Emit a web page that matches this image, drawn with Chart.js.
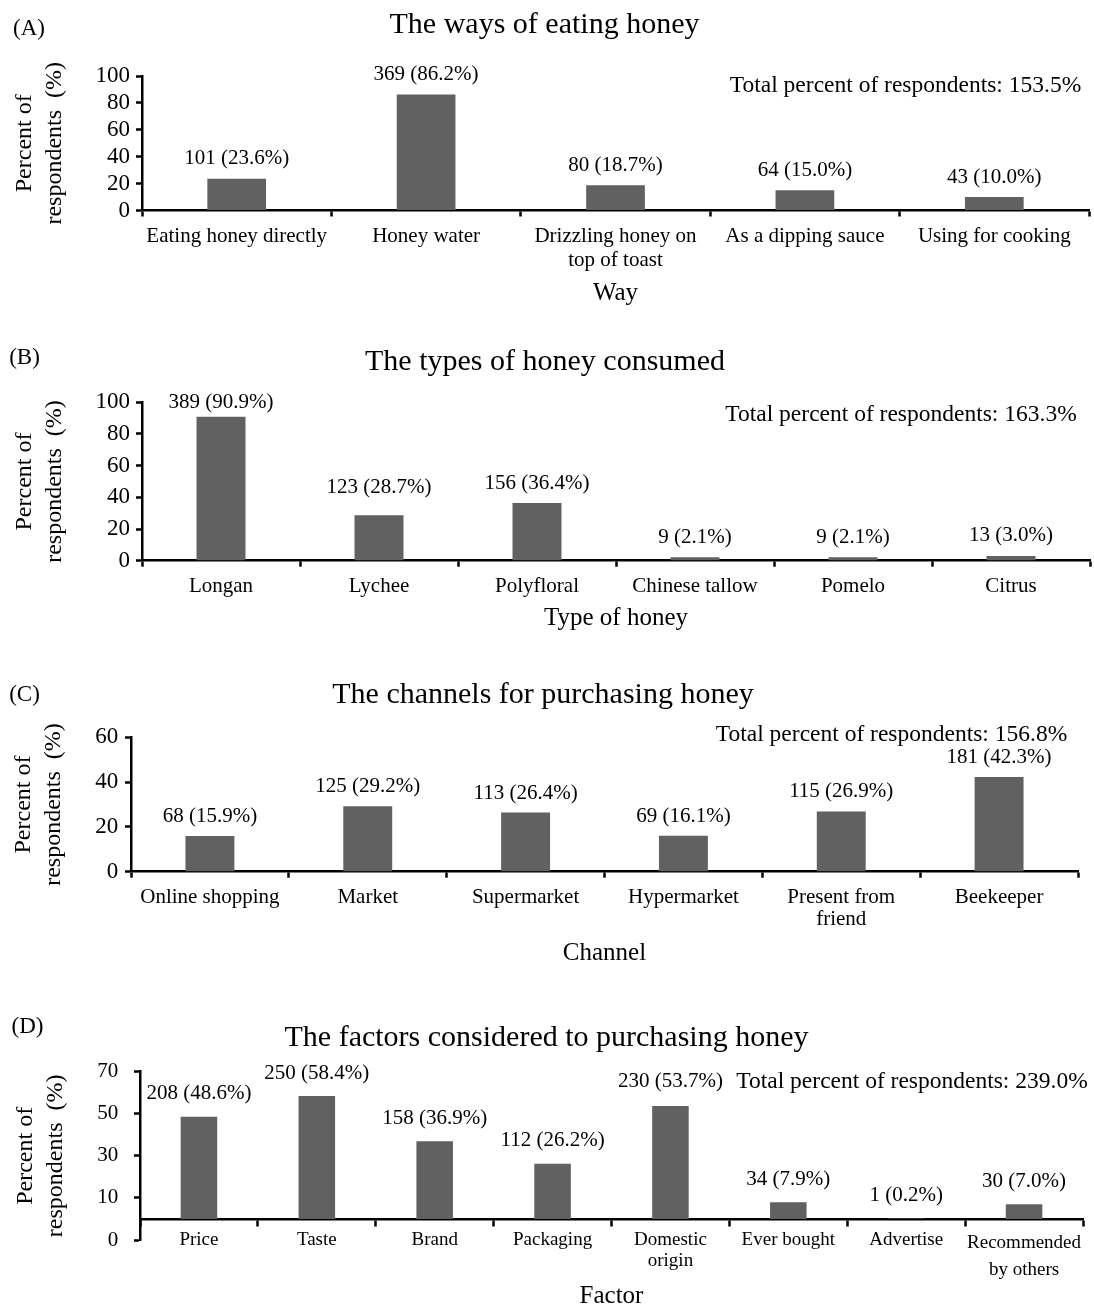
<!DOCTYPE html>
<html>
<head>
<meta charset="utf-8">
<title>Honey consumption survey</title>
<script src="https://cdn.jsdelivr.net/npm/chart.js@4.4.1/dist/chart.umd.min.js"></script>
<style>
  html, body { margin: 0; padding: 0; background: #fff; overflow: hidden; }
  body { width: 1094px; height: 1307px; position: relative; }
  canvas { position: absolute; left: 0; }
</style>
</head>
<body>
<canvas id="wayChart" width="1094" height="325" style="top:0px"></canvas>
<canvas id="typeChart" width="1094" height="330" style="top:325px"></canvas>
<canvas id="channelChart" width="1094" height="330" style="top:655px"></canvas>
<canvas id="factorChart" width="1094" height="322" style="top:985px"></canvas>
<script>
// (A) ways of eating honey
const wayLabels = ['Eating honey directly', 'Honey water', ['Drizzling honey on', 'top of toast'], 'As a dipping sauce', 'Using for cooking'];
const wayCounts = [101, 369, 80, 64, 43];
const wayPercent = [23.6, 86.2, 18.7, 15.0, 10.0];
const wayTotal = 153.5;
const wayTickLabels = ['0', '20', '40', '60', '80', '100'];

// (B) types of honey consumed
const typeLabels = ['Longan', 'Lychee', 'Polyfloral', 'Chinese tallow', 'Pomelo', 'Citrus'];
const typeCounts = [389, 123, 156, 9, 9, 13];
const typePercent = [90.9, 28.7, 36.4, 2.1, 2.1, 3.0];
const typeTotal = 163.3;
const typeTickLabels = ['0', '20', '40', '60', '80', '100'];

// (C) purchase channels
const channelLabels = ['Online shopping', 'Market', 'Supermarket', 'Hypermarket', ['Present from', 'friend'], 'Beekeeper'];
const channelCounts = [68, 125, 113, 69, 115, 181];
const channelPercent = [15.9, 29.2, 26.4, 16.1, 26.9, 42.3];
const channelTotal = 156.8;
const channelTickLabels = ['0', '20', '40', '60'];

// (D) purchase factors
const factorLabels = ['Price', 'Taste', 'Brand', 'Packaging', ['Domestic', 'origin'], 'Ever bought', 'Advertise', ['Recommended', 'by others']];
const factorCounts = [208, 250, 158, 112, 230, 34, 1, 30];
const factorPercent = [48.6, 58.4, 36.9, 26.2, 53.7, 7.9, 0.2, 7.0];
const factorTotal = 239.0;
const factorTickLabels = ['0', '10', '30', '50', '70'];

const SERIF = '"Liberation Serif", "Times New Roman", Times, serif';
Chart.defaults.font.family = SERIF;
Chart.defaults.color = '#000';

// Count/percent labels above bars, the panel letter and the total note
const panelText = {
  id: 'panelText',
  afterDatasetsDraw(chart, args, o) {
    const { ctx } = chart;
    const meta = chart.getDatasetMeta(0);
    ctx.save();
    ctx.fillStyle = '#000';
    ctx.textAlign = 'center';
    ctx.textBaseline = 'middle';
    ctx.font = `21px ${SERIF}`;
    meta.data.forEach((bar, i) => {
      const lift = (o.liftAt && o.liftAt[i] != null) ? o.liftAt[i] : o.lift;
      ctx.fillText(`${o.counts[i]} (${o.pct[i].toFixed(1)}%)`, bar.x, bar.y - lift);
    });
    ctx.font = `23px ${SERIF}`;
    ctx.fillText(o.letter, o.letterX, o.letterY);
    ctx.font = `23.5px ${SERIF}`;
    ctx.fillText(`Total percent of respondents: ${o.total.toFixed(1)}%`, o.noteX, o.noteY);
    ctx.restore();
  }
};

function makePanel(p) {
  const axisColor = '#000';
  return new Chart(document.getElementById(p.id), {
    type: 'bar',
    data: {
      labels: p.labels,
      datasets: [{
        data: p.pct,
        backgroundColor: '#616161',
        borderWidth: 0,
        barPercentage: 0.31,
        categoryPercentage: 1.0
      }]
    },
    options: {
      responsive: false,
      animation: false,
      events: [],
      layout: { padding: { left: p.padLeft, right: p.padRight, top: 0, bottom: p.padBottom || 0 } },
      plugins: {
        legend: { display: false },
        tooltip: { enabled: false },
        title: {
          display: true,
          text: p.title,
          color: '#000',
          font: { size: 30, weight: 'normal', lineHeight: 1.2 },
          padding: { top: p.titleTop, bottom: p.titleBottom }
        },
        panelText: {
          counts: p.counts, pct: p.pct, total: p.total,
          lift: p.lift, liftAt: p.liftAt || null,
          letter: p.letter, letterX: p.letterX, letterY: p.letterY,
          noteX: p.noteX, noteY: p.noteY
        }
      },
      scales: {
        x: {
          position: p.xPosition || 'bottom',
          afterFit: s => { s.height = p.xHeight; },
          grid: {
            offset: true, drawOnChartArea: false, drawTicks: true,
            tickLength: 6, tickColor: axisColor, tickWidth: 2.5
          },
          border: { display: true, color: axisColor, width: 2.5 },
          ticks: {
            autoSkip: false, maxRotation: 0, minRotation: 0,
            padding: p.xTickPad, color: '#000',
            font: ctx => (p.xTickFont(ctx.index))
          },
          title: {
            display: true, text: p.xTitle, color: '#000',
            font: { size: 25, lineHeight: 1.2 },
            padding: { top: 0, bottom: p.xTitleBottom }
          }
        },
        y: {
          min: p.yMin, max: p.yMax,
          afterFit: s => { s.width = p.yWidth; },
          grid: {
            drawOnChartArea: false, drawTicks: true,
            tickLength: 6, tickColor: axisColor, tickWidth: 2.5
          },
          border: { display: true, color: axisColor, width: 2.5 },
          ticks: {
            stepSize: p.yStep, autoSkip: false, padding: p.yTickPad, color: '#000',
            font: { size: p.yTickSize, lineHeight: 1.0 },
            callback: (v, i) => p.yTickLabels[i]
          },
          title: {
            display: true, text: ['Percent of', 'respondents  (%)'], color: '#000',
            font: { size: 24, lineHeight: '30px' },
            padding: { top: p.yTitleTop, bottom: 0 }
          }
        }
      }
    },
    plugins: [panelText]
  });
}

makePanel({
  id: 'wayChart', letter: '(A)', title: 'The ways of eating honey', xTitle: 'Way',
  labels: wayLabels, counts: wayCounts, pct: wayPercent, total: wayTotal,
  yMin: 0, yMax: 100, yStep: 20, yTickLabels: wayTickLabels, yTickSize: 23, yTickPad: 6,
  padLeft: 0, padRight: 5, yWidth: 142, xHeight: 114.5,
  titleTop: 7, titleBottom: 33, xTitleBottom: 17, yTitleTop: 9.5,
  xTickPad: 8.5, xTickFont: () => ({ size: 21, lineHeight: '23.5px' }),
  lift: 20, letterX: 29, letterY: 29, noteX: 905.5, noteY: 86
});

makePanel({
  id: 'typeChart', letter: '(B)', title: 'The types of honey consumed', xTitle: 'Type of honey',
  labels: typeLabels, counts: typeCounts, pct: typePercent, total: typeTotal,
  yMin: 0, yMax: 100, yStep: 20, yTickLabels: typeTickLabels, yTickSize: 23, yTickPad: 6,
  padLeft: 0, padRight: 4, yWidth: 142, xHeight: 94.3,
  titleTop: 18.7, titleBottom: 22.6, xTitleBottom: 22, yTitleTop: 9.5,
  xTickPad: 8.5, xTickFont: () => ({ size: 21, lineHeight: '23px' }),
  lift: 20, liftAt: { 0: 14, 1: 28 }, letterX: 24.5, letterY: 33, noteX: 901, noteY: 90
});

makePanel({
  id: 'channelChart', letter: '(C)', title: 'The channels for purchasing honey', xTitle: 'Channel',
  labels: channelLabels, counts: channelCounts, pct: channelPercent, total: channelTotal,
  yMin: 0, yMax: 60, yStep: 20, yTickLabels: channelTickLabels, yTickSize: 23, yTickPad: 6.7,
  padLeft: 8, padRight: 16, yWidth: 123, xHeight: 113.3,
  titleTop: 22, titleBottom: 24.3, xTitleBottom: 17, yTitleTop: 1.2,
  xTickPad: 9.25, xTickFont: () => ({ size: 21, lineHeight: '21.5px' }),
  lift: 19.5, letterX: 24.5, letterY: 40, noteX: 891.5, noteY: 80
});

makePanel({
  id: 'factorChart', letter: '(D)', title: 'The factors considered to purchasing honey', xTitle: 'Factor',
  labels: factorLabels, counts: factorCounts, pct: factorPercent, total: factorTotal,
  yMin: -10, yMax: 70, yStep: 20, yTickLabels: factorTickLabels, yTickSize: 21, yTickPad: 15.7,
  padLeft: 10, padRight: 11, padBottom: 67, yWidth: 130, xHeight: 105, xPosition: { y: 0 },
  titleTop: 35, titleBottom: 15.7, xTitleBottom: 12.3, yTitleTop: 0.8,
  xTickPad: 4.5, xTickFont: i => ({ size: 19, lineHeight: i === 7 ? '27px' : '21px' }),
  lift: 23, liftAt: { 4: 24.5 }, letterX: 27.5, letterY: 42, noteX: 912, noteY: 97
});
</script>
</body>
</html>
